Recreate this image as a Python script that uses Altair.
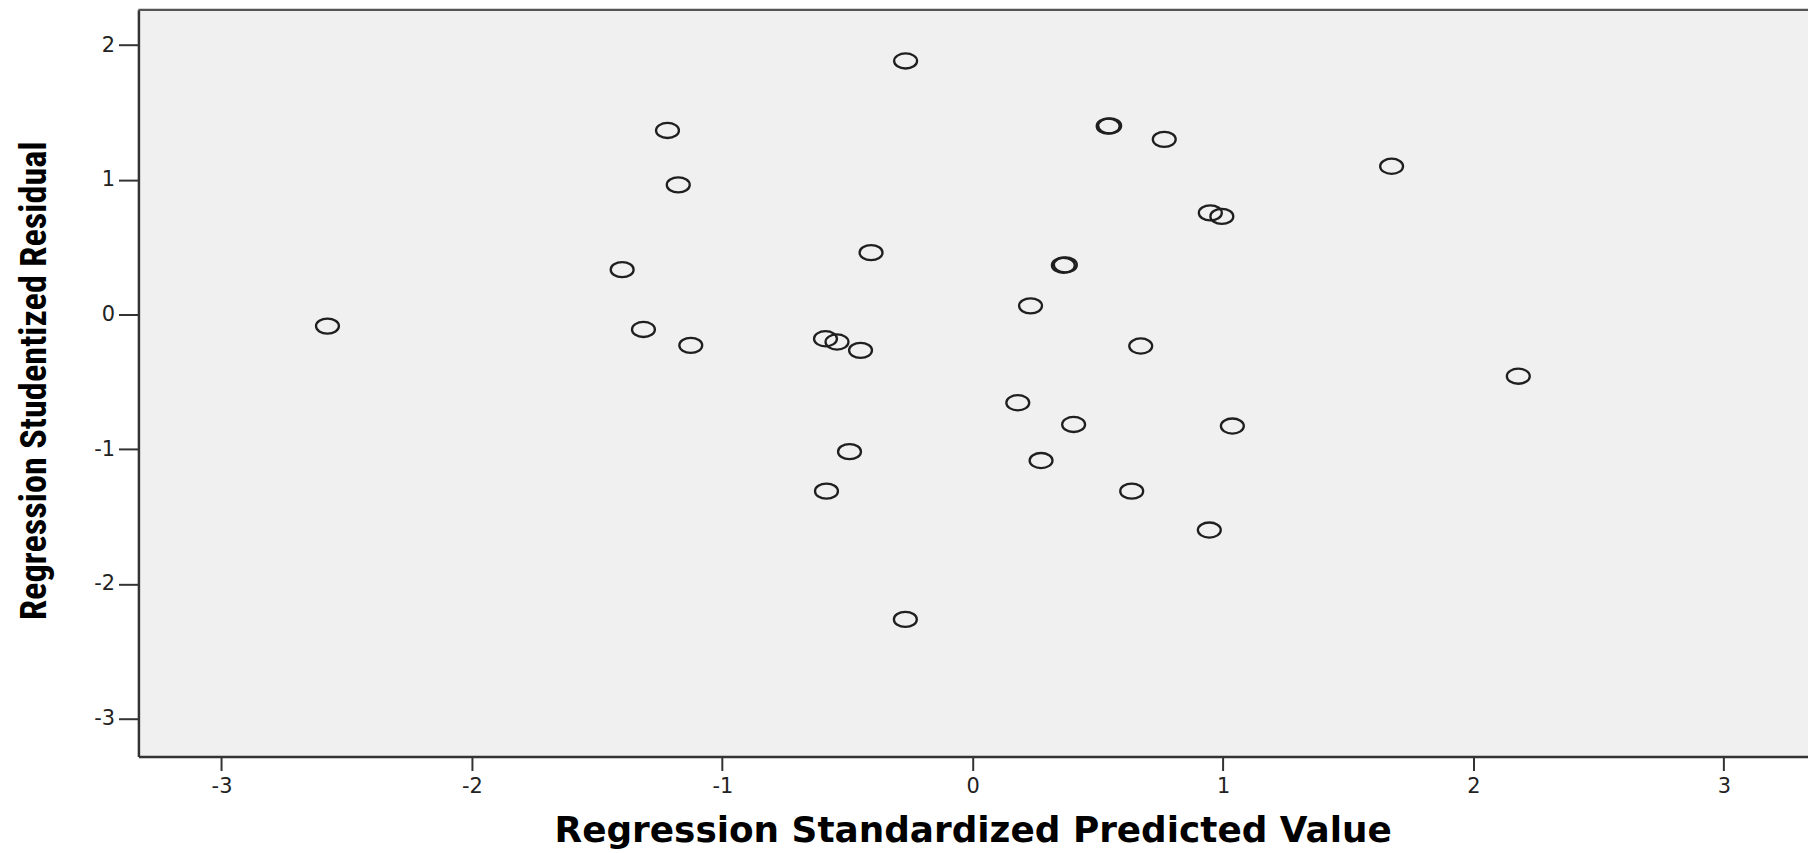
import altair as alt
import pandas as pd

# Regression Standardized Predicted Value (x) and Regression Studentized Residual (y)
pred = [-2.577, -1.400, -1.315, -1.219, -1.176, -1.126, -0.588, -0.584, -0.542, -0.492,
        -0.448, -0.406, -0.268, -0.269, 0.180, 0.231, 0.273, 0.362, 0.370, 0.403,
        0.541, 0.547, 0.635, 0.671, 0.765, 0.945, 0.949, 0.995, 1.037, 1.673, 2.179]
resid = [-0.086, 0.333, -0.111, 1.366, 0.962, -0.229, -0.180, -1.311, -0.204, -1.018,
         -0.266, 0.459, 1.882, -2.263, -0.655, 0.064, -1.084, 0.365, 0.368, -0.816,
         1.398, 1.400, -1.311, -0.234, 1.300, -1.600, 0.754, 0.728, -0.828, 1.100, -0.458]

x_ticks = [-3, -2, -1, 0, 1, 2, 3]
y_ticks = [-3, -2, -1, 0, 1, 2]
x_title = "Regression Standardized Predicted Value"
y_title = "Regression Studentized Residual"

df = pd.DataFrame({"pred": pred, "resid": resid})

W, H = 1677, 750
ellipse = "M -1 0 A 1 0.66 0 1 0 1 0 A 1 0.66 0 1 0 -1 0 Z"

points = alt.Chart(df).mark_point(
    shape=ellipse, filled=False, size=530, stroke="#1f1f1f", strokeWidth=2.3, opacity=1
).encode(
    x=alt.X("pred:Q",
            scale=alt.Scale(domain=[-3.332, 3.336], nice=False, zero=False),
            axis=alt.Axis(values=x_ticks, title=x_title, tickSize=14, labelPadding=5,
                          labelExpr="'' + datum.value",
                          titleFont="DejaVu Sans", titleFontSize=36, titleFontWeight="bold",
                          titleColor="#000", titleX=838, titleY=74, titleBaseline="middle",
                          titleAlign="center", titleAnchor="middle")),
    y=alt.Y("resid:Q",
            scale=alt.Scale(domain=[-3.281, 2.261], nice=False, zero=False),
            axis=alt.Axis(values=y_ticks, title=y_title, tickSize=20, labelPadding=4,
                          labelExpr="'' + datum.value",
                          titleFont="Liberation Sans Narrow, Roboto Condensed, Liberation Sans",
                          titleFontSize=36.5, titleFontWeight="bold", titleColor="#000",
                          titleAngle=270, titleX=-104, titleY=372, titleBaseline="middle",
                          titleAlign="center", titleAnchor="middle")),
)

top_border = alt.Chart(alt.Data(values=[{"a": 0}])).mark_rule(
    color="#555555", strokeWidth=2.5
).encode(x=alt.value(0), x2=alt.value(W), y=alt.value(0))

chart = alt.layer(points, top_border).properties(
    width=W, height=H,
    autosize=alt.AutoSizeParams(type="none"),
    padding={"left": 131, "top": 0, "right": 0, "bottom": 95},
    background="white",
).configure_view(
    fill="#f0f0f0", stroke="transparent"
).configure_axis(
    grid=False,
    domainColor="#333333", domainWidth=2.5,
    tickColor="#333333", tickWidth=2,
    labelFont="DejaVu Sans", labelFontSize=21, labelColor="#222222",
)

chart.save("out.html", embed_options={"renderer": "svg", "actions": False})
